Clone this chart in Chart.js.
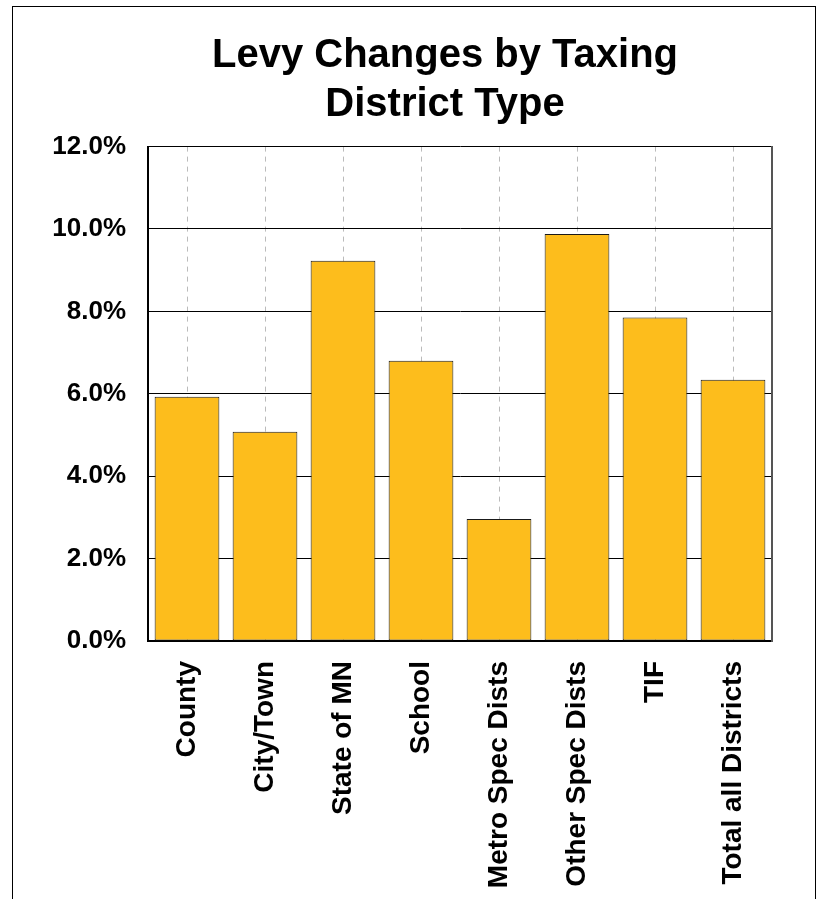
<!DOCTYPE html>
<html>
<head>
<meta charset="utf-8">
<title>Levy Changes by Taxing District Type</title>
<script src="https://cdn.jsdelivr.net/npm/chart.js@4/dist/chart.umd.min.js"></script>
<style>
  html, body { margin: 0; padding: 0; background: #fff; }
  #wrap { position: relative; width: 821px; height: 899px; }
</style>
</head>
<body>
<div id="wrap"><canvas id="levy-chart" width="821" height="899"></canvas></div>
<script>
// Levy changes by taxing district type (percent change)
const categories = ['County', 'City/Town', 'State of MN', 'School', 'Metro Spec Dists', 'Other Spec Dists', 'TIF', 'Total all Districts'];
const levyChange = [5.93, 5.08, 9.23, 6.80, 2.96, 9.88, 7.85, 6.34];
const yTicks = [0, 2, 4, 6, 8, 10, 12];

const FONT = "'Liberation Sans', Arial, sans-serif";

// white background + outer frame
const framePlugin = {
  id: 'frame',
  beforeDraw(chart) {
    const ctx = chart.ctx;
    ctx.save();
    ctx.fillStyle = '#fff';
    ctx.fillRect(0, 0, chart.width, chart.height);
    ctx.restore();
  },
  afterDraw(chart) {
    const ctx = chart.ctx;
    ctx.save();
    ctx.strokeStyle = '#000';
    ctx.lineWidth = 1;
    ctx.strokeRect(12.5, 6.5, 803, 900);
    ctx.restore();
  }
};

new Chart(document.getElementById('levy-chart'), {
  type: 'bar',
  data: {
    labels: categories,
    datasets: [{
      data: levyChange,
      backgroundColor: '#FDBD1C',
      borderColor: '#1a1a1a',
      borderWidth: 1,
      borderSkipped: false,
      barPercentage: 0.83,
      categoryPercentage: 1
    }]
  },
  options: {
    responsive: false,
    animation: false,
    // left padding shifts the title centre to match the original
    layout: { padding: { left: 69, right: 0, top: 0, bottom: 0 } },
    plugins: {
      legend: { display: false },
      tooltip: { enabled: false },
      title: {
        display: true,
        text: ['Levy Changes by Taxing', 'District Type'],
        color: '#000',
        font: { family: FONT, size: 40, weight: 'bold', lineHeight: 1.22 },
        padding: { top: 32, bottom: 17 }
      }
    },
    scales: {
      x: {
        grid: {
          offset: false,
          drawTicks: false,
          color: '#bbb',
          lineWidth: 1
        },
        border: { display: true, color: '#000', width: 2, dash: [5, 5] },
        ticks: {
          color: '#000',
          font: { family: FONT, size: 28, weight: 'bold' },
          minRotation: 90,
          maxRotation: 90,
          padding: 20
        },
        afterFit(scale) { scale.height = 899 - 641; }
      },
      y: {
        min: 0,
        max: 12,
        afterBuildTicks(scale) { scale.ticks = yTicks.map(v => ({ value: v })); },
        grid: { drawTicks: false, color: '#000', lineWidth: 1 },
        border: { display: true, color: '#000', width: 2 },
        ticks: {
          color: '#000',
          font: { family: FONT, size: 26, weight: 'bold' },
          padding: 22,
          callback: v => v.toFixed(1) + '%'
        },
        afterFit(scale) {
          scale.width = 148 - 69;
          // labels reach past the narrowed axis box, so don't clip them
          scale._computeLabelArea = () => undefined;
        }
      },
      // right edge of the plot box
      yRight: {
        position: 'right',
        min: 0,
        max: 12,
        grid: { display: false, drawTicks: false },
        border: { display: true, color: '#555', width: 2 },
        ticks: { display: false },
        afterFit(scale) { scale.width = 821 - 772; }
      }
    }
  },
  plugins: [framePlugin]
});
</script>
</body>
</html>
